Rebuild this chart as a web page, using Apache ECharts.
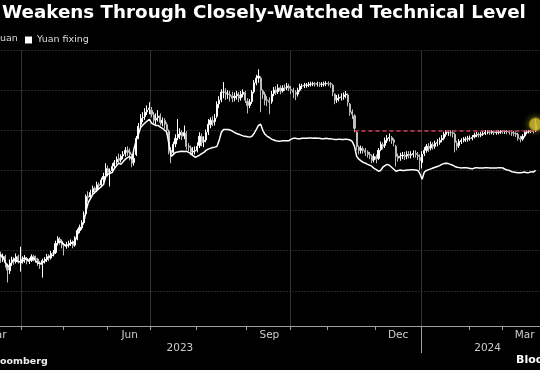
<!DOCTYPE html>
<html><head><meta charset="utf-8">
<script src="https://cdn.jsdelivr.net/npm/echarts@6.0.0/dist/echarts.min.js"></script>
<style>html,body{margin:0;padding:0;background:#000;}#chart{width:540px;height:370px;}</style>
</head><body><div id="chart"></div>
<script>
// ---- calendar (onshore trading days) ----
const calendarStart = '2023-03-01';
const calendarEnd = '2024-03-29';
const holidays = ['2023-04-05','2023-05-01','2023-05-02','2023-05-03','2023-06-22','2023-06-23',
  '2023-09-29','2023-10-02','2023-10-03','2023-10-04','2023-10-05','2023-10-06',
  '2024-01-01','2024-02-09','2024-02-12','2024-02-13','2024-02-14','2024-02-15','2024-02-16'];
const dataStart = '2023-03-17';
const monthNames = ['Jan','Feb','Mar','Apr','May','Jun','Jul','Aug','Sep','Oct','Nov','Dec'];
const labelledMonths = ['2023-03','2023-06','2023-09','2023-12','2024-03'];
const gridMonths = ['2023-04','2023-07','2023-10','2024-01'];
const yearBoundaryMonth = '2024-01';
const yearLabels = { '2023-07-20': '2023', '2024-02-21': '2024' };
const techLevel = 7.2;
const techLevelFrom = '2023-11-17';
const lastPoint = { date: '2024-03-22', value: 7.215 };

// ---- onshore yuan candles [open, close, low, high] ----
const candlesMar2023 = [[6.905,6.888,6.880,6.912],[6.890,6.883,6.870,6.898],[6.880,6.885,6.872,6.893],[6.886,6.870,6.858,6.890],[6.864,6.852,6.821,6.868],[6.850,6.869,6.842,6.878],[6.872,6.876,6.862,6.885],[6.878,6.873,6.865,6.884],[6.874,6.885,6.868,6.893],[6.886,6.874,6.868,6.890],[6.870,6.872,6.848,6.910]];
const candlesApr2023 = [[6.874,6.877,6.868,6.886],[6.878,6.880,6.870,6.889],[6.881,6.874,6.866,6.884],[6.873,6.875,6.867,6.882],[6.876,6.885,6.872,6.891],[6.886,6.881,6.874,6.890],[6.880,6.879,6.870,6.888],[6.879,6.870,6.862,6.882],[6.868,6.866,6.855,6.874],[6.866,6.875,6.833,6.880],[6.874,6.877,6.868,6.884],[6.878,6.885,6.872,6.892],[6.886,6.882,6.874,6.891],[6.882,6.893,6.878,6.899],[6.894,6.894,6.886,6.902],[6.896,6.918,6.892,6.925],[6.920,6.930,6.915,6.936],[6.929,6.925,6.915,6.934],[6.924,6.915,6.906,6.928]];
const candlesMay2023 = [[6.914,6.912,6.888,6.920],[6.911,6.915,6.905,6.922],[6.914,6.918,6.908,6.925],[6.919,6.921,6.912,6.928],[6.922,6.913,6.906,6.926],[6.914,6.930,6.910,6.936],[6.931,6.950,6.926,6.955],[6.950,6.958,6.944,6.965],[6.957,6.970,6.952,6.976],[6.970,6.988,6.966,6.998],[6.992,7.035,6.988,7.040],[7.036,7.033,7.022,7.048],[7.034,7.045,7.028,7.052],[7.046,7.055,7.040,7.062],[7.056,7.050,7.042,7.060],[7.052,7.064,7.046,7.072],[7.065,7.062,7.052,7.070],[7.064,7.076,7.058,7.082],[7.078,7.085,7.070,7.094],[7.088,7.105,7.082,7.118]];
const candlesJun2023 = [[7.104,7.095,7.085,7.112],[7.096,7.098,7.060,7.105],[7.100,7.110,7.094,7.118],[7.111,7.120,7.104,7.126],[7.121,7.128,7.114,7.135],[7.130,7.125,7.116,7.142],[7.126,7.135,7.120,7.140],[7.136,7.140,7.128,7.148],[7.141,7.150,7.134,7.158],[7.150,7.145,7.136,7.160],[7.146,7.140,7.125,7.155],[7.138,7.118,7.108,7.142],[7.120,7.130,7.112,7.150],[7.140,7.180,7.136,7.186],[7.182,7.210,7.178,7.218],[7.215,7.230,7.208,7.240],[7.232,7.232,7.220,7.245],[7.234,7.245,7.226,7.255],[7.246,7.250,7.238,7.262],[7.252,7.255,7.240,7.270]];
const candlesJul2023 = [[7.250,7.240,7.232,7.258],[7.238,7.225,7.218,7.246],[7.226,7.230,7.214,7.242],[7.232,7.235,7.222,7.250],[7.236,7.220,7.212,7.242],[7.218,7.225,7.210,7.232],[7.224,7.215,7.204,7.230],[7.214,7.200,7.190,7.220],[7.198,7.150,7.140,7.202],[7.150,7.142,7.118,7.158],[7.145,7.165,7.138,7.172],[7.166,7.180,7.158,7.190],[7.182,7.190,7.175,7.228],[7.188,7.195,7.178,7.205],[7.194,7.185,7.176,7.200],[7.186,7.195,7.178,7.212],[7.192,7.160,7.152,7.198],[7.160,7.158,7.148,7.168],[7.156,7.145,7.138,7.162],[7.146,7.148,7.136,7.158],[7.148,7.150,7.140,7.160]];
const candlesAug2023 = [[7.150,7.160,7.145,7.170],[7.162,7.185,7.156,7.195],[7.184,7.170,7.160,7.192],[7.172,7.175,7.158,7.185],[7.176,7.195,7.170,7.202],[7.196,7.215,7.188,7.228],[7.214,7.225,7.205,7.232],[7.224,7.220,7.210,7.235],[7.222,7.230,7.212,7.240],[7.235,7.265,7.230,7.272],[7.266,7.275,7.255,7.285],[7.276,7.295,7.270,7.302],[7.295,7.295,7.280,7.320],[7.294,7.290,7.276,7.305],[7.290,7.290,7.278,7.300],[7.289,7.285,7.272,7.298],[7.286,7.280,7.270,7.296],[7.281,7.285,7.272,7.294],[7.286,7.290,7.276,7.298],[7.288,7.280,7.270,7.295],[7.281,7.290,7.274,7.298],[7.290,7.295,7.282,7.302],[7.294,7.275,7.268,7.298]];
const candlesSep2023 = [[7.272,7.262,7.242,7.280],[7.262,7.270,7.255,7.278],[7.272,7.295,7.266,7.300],[7.296,7.318,7.292,7.325],[7.318,7.330,7.312,7.338],[7.330,7.335,7.318,7.352],[7.330,7.300,7.245,7.334],[7.298,7.290,7.278,7.302],[7.290,7.275,7.262,7.296],[7.276,7.275,7.260,7.285],[7.274,7.270,7.240,7.282],[7.272,7.290,7.266,7.298],[7.292,7.300,7.285,7.308],[7.300,7.295,7.288,7.310],[7.296,7.305,7.290,7.315],[7.306,7.298,7.290,7.312],[7.298,7.305,7.294,7.312],[7.306,7.305,7.298,7.314],[7.306,7.310,7.300,7.318],[7.310,7.305,7.298,7.316]];
const candlesOct2023 = [[7.302,7.300,7.290,7.310],[7.300,7.295,7.280,7.306],[7.294,7.290,7.275,7.300],[7.290,7.300,7.284,7.306],[7.300,7.310,7.296,7.316],[7.310,7.310,7.303,7.316],[7.311,7.312,7.305,7.318],[7.312,7.313,7.306,7.318],[7.313,7.315,7.308,7.320],[7.315,7.315,7.309,7.321],[7.315,7.316,7.310,7.321],[7.316,7.315,7.309,7.320],[7.315,7.316,7.309,7.321],[7.316,7.314,7.308,7.320],[7.314,7.315,7.308,7.320],[7.315,7.316,7.309,7.321],[7.316,7.317,7.310,7.322]];
const candlesNov2023 = [[7.317,7.316,7.310,7.322],[7.316,7.315,7.306,7.320],[7.312,7.295,7.285,7.316],[7.290,7.275,7.265,7.292],[7.276,7.280,7.268,7.288],[7.280,7.282,7.272,7.290],[7.282,7.283,7.274,7.292],[7.284,7.288,7.276,7.294],[7.288,7.290,7.280,7.298],[7.288,7.270,7.260,7.292],[7.265,7.245,7.236,7.268],[7.246,7.240,7.228,7.252],[7.236,7.205,7.195,7.240],[7.195,7.160,7.150,7.198],[7.158,7.150,7.140,7.162],[7.150,7.155,7.142,7.162],[7.154,7.150,7.142,7.160],[7.150,7.145,7.136,7.156],[7.146,7.140,7.132,7.150],[7.140,7.138,7.128,7.146],[7.136,7.125,7.118,7.140],[7.126,7.135,7.120,7.142]];
const candlesDec2023 = [[7.134,7.128,7.118,7.140],[7.130,7.150,7.126,7.156],[7.152,7.165,7.148,7.172],[7.164,7.160,7.152,7.170],[7.162,7.175,7.156,7.182],[7.174,7.180,7.168,7.188],[7.180,7.182,7.172,7.192],[7.182,7.175,7.166,7.186],[7.176,7.170,7.160,7.180],[7.160,7.135,7.110,7.164],[7.136,7.130,7.122,7.142],[7.132,7.135,7.124,7.144],[7.136,7.138,7.128,7.146],[7.138,7.135,7.126,7.146],[7.136,7.140,7.128,7.148],[7.140,7.138,7.130,7.148],[7.138,7.140,7.130,7.148],[7.140,7.142,7.132,7.150],[7.142,7.140,7.132,7.150],[7.138,7.135,7.126,7.146],[7.132,7.125,7.100,7.140]];
const candlesJan2024 = [[7.120,7.140,7.105,7.148],[7.142,7.150,7.136,7.158],[7.150,7.160,7.144,7.166],[7.160,7.155,7.146,7.168],[7.156,7.165,7.150,7.172],[7.164,7.160,7.152,7.170],[7.160,7.168,7.154,7.174],[7.168,7.170,7.160,7.178],[7.170,7.175,7.164,7.182],[7.176,7.180,7.170,7.188],[7.180,7.190,7.175,7.196],[7.190,7.195,7.184,7.200],[7.195,7.195,7.186,7.200],[7.194,7.194,7.185,7.200],[7.194,7.192,7.182,7.199],[7.190,7.170,7.145,7.194],[7.168,7.160,7.150,7.174],[7.162,7.172,7.156,7.178],[7.172,7.175,7.166,7.180],[7.175,7.178,7.170,7.183],[7.178,7.178,7.171,7.184],[7.178,7.180,7.172,7.186]];
const candlesFeb2024 = [[7.180,7.180,7.174,7.187],[7.180,7.182,7.175,7.188],[7.184,7.188,7.180,7.194],[7.188,7.190,7.183,7.196],[7.190,7.188,7.182,7.195],[7.188,7.190,7.183,7.196],[7.190,7.192,7.186,7.198],[7.192,7.195,7.188,7.200],[7.195,7.196,7.190,7.200],[7.196,7.195,7.189,7.200],[7.195,7.197,7.190,7.200],[7.196,7.194,7.188,7.199],[7.194,7.195,7.189,7.200],[7.195,7.196,7.190,7.200],[7.196,7.198,7.191,7.200]];
const candlesMar2024 = [[7.198,7.197,7.191,7.200],[7.197,7.198,7.191,7.200],[7.198,7.197,7.190,7.200],[7.197,7.195,7.189,7.200],[7.195,7.193,7.186,7.199],[7.193,7.192,7.185,7.198],[7.192,7.190,7.183,7.197],[7.190,7.180,7.174,7.194],[7.180,7.178,7.170,7.186],[7.178,7.185,7.174,7.190],[7.186,7.195,7.182,7.199],[7.195,7.196,7.190,7.200],[7.196,7.198,7.192,7.200],[7.198,7.199,7.193,7.200],[7.198,7.198,7.192,7.200],[7.199,7.215,7.196,7.228]];

// ---- yuan fixing ----
const fixingMar2023 = [6.895,6.887,6.884,6.871,6.862,6.860,6.871,6.880,6.874,6.873,6.872];
const fixingApr2023 = [6.880,6.882,6.878,6.876,6.880,6.882,6.874,6.869,6.868,6.870,6.875,6.880,6.885,6.888,6.889,6.905,6.920,6.923,6.920];
const fixingMay2023 = [6.915,6.912,6.915,6.918,6.920,6.925,6.940,6.950,6.960,6.972,7.000,7.020,7.030,7.040,7.045,7.050,7.055,7.060,7.065,7.085];
const fixingJun2023 = [7.090,7.093,7.095,7.105,7.112,7.118,7.115,7.122,7.128,7.132,7.135,7.128,7.155,7.175,7.190,7.207,7.213,7.218,7.223,7.227];
const fixingJul2023 = [7.218,7.215,7.212,7.212,7.208,7.205,7.200,7.195,7.165,7.135,7.140,7.145,7.146,7.147,7.148,7.147,7.148,7.145,7.142,7.137,7.133];
const fixingAug2023 = [7.135,7.138,7.142,7.145,7.150,7.153,7.155,7.157,7.158,7.160,7.175,7.195,7.202,7.202,7.202,7.201,7.198,7.195,7.192,7.190,7.188,7.186,7.185];
const fixingSep2023 = [7.184,7.183,7.185,7.192,7.202,7.212,7.215,7.200,7.190,7.185,7.182,7.178,7.176,7.174,7.173,7.173,7.174,7.174,7.174,7.174];
const fixingOct2023 = [7.178,7.180,7.180,7.179,7.179,7.180,7.180,7.180,7.181,7.181,7.180,7.181,7.180,7.180,7.179,7.179,7.180];
const fixingNov2023 = [7.179,7.179,7.178,7.177,7.177,7.178,7.177,7.177,7.178,7.177,7.176,7.172,7.160,7.135,7.128,7.124,7.120,7.118,7.115,7.113,7.110,7.105];
const fixingDec2023 = [7.102,7.098,7.100,7.108,7.112,7.115,7.113,7.108,7.103,7.098,7.100,7.101,7.100,7.100,7.101,7.101,7.102,7.102,7.101,7.100,7.092];
const fixingJan2024 = [7.078,7.096,7.100,7.102,7.104,7.106,7.108,7.110,7.112,7.115,7.117,7.118,7.117,7.115,7.113,7.110,7.108,7.107,7.106,7.107,7.107,7.106];
const fixingFeb2024 = [7.105,7.104,7.106,7.107,7.106,7.106,7.106,7.107,7.107,7.106,7.106,7.106,7.106,7.107,7.107];
const fixingMar2024 = [7.106,7.103,7.101,7.100,7.097,7.096,7.095,7.094,7.094,7.095,7.096,7.094,7.095,7.097,7.096,7.100];

// ---- build categories ----
function tradingDays() {
  const out = [];
  let t = Date.parse(calendarStart + 'T00:00:00Z');
  const end = Date.parse(calendarEnd + 'T00:00:00Z');
  while (t <= end) {
    const d = new Date(t);
    const s = d.toISOString().slice(0, 10);
    const wd = d.getUTCDay();
    if (wd !== 0 && wd !== 6 && holidays.indexOf(s) < 0) out.push(s);
    t += 86400000;
  }
  return out;
}
const days = tradingDays();
const monthInfo = {};
days.forEach((d, i) => {
  const m = d.slice(0, 7);
  if (!monthInfo[m]) monthInfo[m] = { first: i, count: 0 };
  monthInfo[m].count++;
});
const monthStartIdx = new Set(Object.values(monthInfo).map(m => m.first));
const gridIdx = new Set(gridMonths.map(m => monthInfo[m].first));
const labelIdx = {};
labelledMonths.forEach(m => {
  const info = monthInfo[m];
  labelIdx[info.first + Math.round((info.count - 1) / 2)] = monthNames[parseInt(m.slice(5, 7), 10) - 1];
});
const yearTickIdx = new Set([0, monthInfo[yearBoundaryMonth].first]);
const yearLabelIdx = {};
Object.keys(yearLabels).forEach(d => { yearLabelIdx[days.indexOf(d)] = yearLabels[d]; });

const candles = [].concat(candlesMar2023, candlesApr2023, candlesMay2023, candlesJun2023, candlesJul2023,
  candlesAug2023, candlesSep2023, candlesOct2023, candlesNov2023, candlesDec2023, candlesJan2024, candlesFeb2024, candlesMar2024);
const fixing = [].concat(fixingMar2023, fixingApr2023, fixingMay2023, fixingJun2023, fixingJul2023,
  fixingAug2023, fixingSep2023, fixingOct2023, fixingNov2023, fixingDec2023, fixingJan2024, fixingFeb2024, fixingMar2024);
const startIdx = days.indexOf(dataStart);
const candleRows = candles.map((c, i) => [startIdx + i, c[0], c[1], c[2], c[3]]);
const fixingRows = fixing.map((v, i) => [startIdx + i, v]);

const FONT = '"DejaVu Sans", sans-serif';
const chart = echarts.init(document.getElementById('chart'), null, { renderer: 'canvas' });
chart.setOption({
  backgroundColor: '#000000',
  animation: false,
  graphic: [
    { type: 'text', left: 2, top: 4, style: { text: 'Weakens Through Closely-Watched Technical Level', fill: '#ffffff', font: 'bold 18.3px ' + FONT } },
    { type: 'text', left: 0, top: 34, style: { text: 'uan', fill: '#dddddd', font: '9.5px ' + FONT } },
    { type: 'text', left: 0, top: 357, style: { text: 'oomberg', fill: '#eeeeee', font: 'bold 9.5px ' + FONT } },
    { type: 'text', left: 516, top: 355, style: { text: 'Bloomberg', fill: '#ffffff', font: 'bold 11px ' + FONT } }
  ],
  legend: {
    data: ['Yuan fixing'], left: 25, top: 35, icon: 'rect', itemWidth: 7, itemHeight: 7, padding: 0,
    textStyle: { color: '#dddddd', fontSize: 9.5, fontFamily: FONT }
  },
  grid: { left: -28.5, right: -7.6, top: 50, bottom: 44, containLabel: false, outerBoundsMode: 'none' },
  xAxis: [{
    type: 'category', data: days, boundaryGap: true,
    axisLine: { show: true, lineStyle: { color: '#a0a0a0', width: 1 } },
    axisTick: { show: true, interval: (i) => monthStartIdx.has(i), length: 4, lineStyle: { color: '#a0a0a0', width: 1 } },
    axisLabel: { show: true, interval: (i) => labelIdx[i] !== undefined, formatter: (v, i) => labelIdx[i] || '', color: '#cccccc', fontSize: 10.5, fontFamily: FONT, margin: 4 },
    splitLine: { show: true, interval: (i) => gridIdx.has(i), lineStyle: { color: '#333333', width: 1 } }
  }, {
    type: 'category', data: days, boundaryGap: true, position: 'bottom', offset: 0,
    axisLine: { show: false },
    axisTick: { show: true, interval: (i) => yearTickIdx.has(i), length: 27, lineStyle: { color: '#a0a0a0', width: 1 } },
    axisLabel: { show: true, interval: (i) => yearLabelIdx[i] !== undefined, formatter: (v, i) => yearLabelIdx[i] || '', color: '#cccccc', fontSize: 10.5, fontFamily: FONT, margin: 17 },
    splitLine: { show: false }
  }],
  yAxis: {
    type: 'value', min: 6.7125, max: 7.4, splitNumber: 7, scale: true,
    axisLine: { show: false }, axisTick: { show: false }, axisLabel: { show: false },
    splitLine: { show: true, lineStyle: { color: '#4a4a4a', type: [1, 2], width: 1 } }
  },
  series: [{
    name: 'Onshore yuan', type: 'candlestick', xAxisIndex: 0, data: candleRows,
    encode: { x: 0, y: [1, 2, 3, 4] }, barWidth: 1.6,
    itemStyle: { color: '#ffffff', color0: '#bdbdbd', borderColor: '#ffffff', borderColor0: '#bdbdbd', borderWidth: 1 },
    markLine: {
      silent: true, symbol: ['none', 'none'], label: { show: false },
      lineStyle: { color: '#d43c5e', type: [4, 3], width: 1.5 },
      data: [[{ coord: [days.indexOf(techLevelFrom), techLevel] }, { coord: [days.indexOf(lastPoint.date), techLevel] }]]
    }
  }, {
    name: 'Yuan fixing', type: 'line', xAxisIndex: 0, data: fixingRows, encode: { x: 0, y: 1 },
    showSymbol: false, color: '#ffffff', lineStyle: { color: '#ffffff', width: 1.5 }
  }, {
    name: 'Latest', type: 'scatter', xAxisIndex: 0, symbolSize: 13,
    data: [[days.indexOf(lastPoint.date), lastPoint.value]],
    itemStyle: { color: '#cbb52e', borderColor: '#7a6a12', borderWidth: 1, shadowBlur: 6, shadowColor: 'rgba(220,200,60,0.7)' }
  }]
});
</script></body></html>
